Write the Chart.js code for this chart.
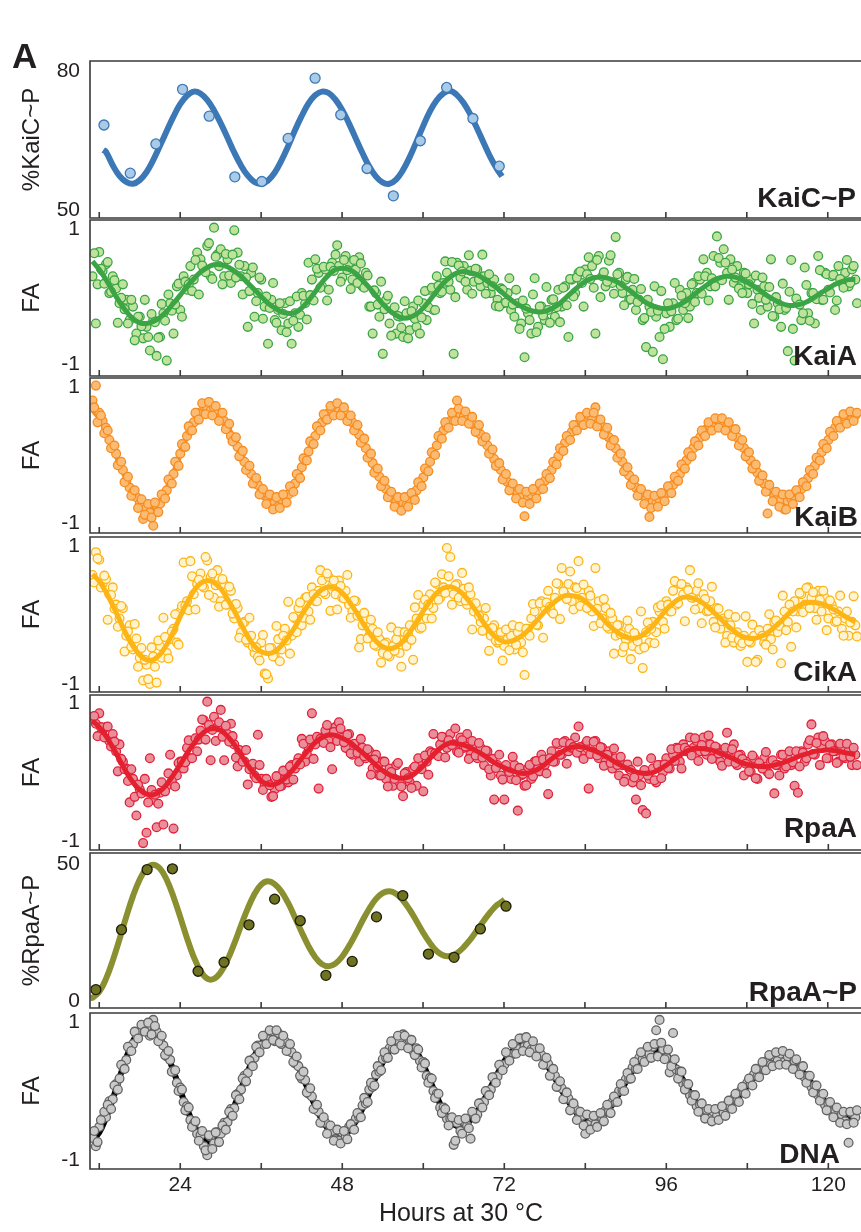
<!DOCTYPE html>
<html>
<head>
<meta charset="utf-8">
<title>Clock protein traces</title>
<script src="https://cdn.jsdelivr.net/npm/chart.js@4.4.1/dist/chart.umd.min.js"></script>
<style>
  html, body { margin: 0; padding: 0; background: #fff; }
  body { width: 861px; height: 1232px; overflow: hidden; position: relative; }
  canvas { position: absolute; left: 0; }
</style>
</head>
<body>
<script>
// time axis, hours at 30 °C
const HOUR_MIN = 10.63;
const HOUR_MAX = 126.81;
const xLabelHours = [24, 48, 72, 96, 120];
const xTickHours = [12, 24, 36, 48, 60, 72, 84, 96, 108, 120];

const faTicks = [-1, 1];
const kaicTicks = [50, 80];
const rpaapTicks = [0, 50];

// FA traces: two interleaved reading sets, each one every half hour (set B a quarter hour later);
// fits: one value per hour from 11 h
const faStart = 11, faStep = 0.5, faCount = 227, faOffsetB = 0.25;
const fitStart = 11, fitCount = 114;

// %KaiC~P
const kaicHours = [12.7, 16.6, 20.4, 24.35, 28.3, 32.1, 36.1, 40.0, 44.0, 47.8, 51.7, 55.6, 59.6, 63.5, 67.4, 71.3];
const kaicValues = [68.5, 58.1, 64.4, 76.2, 70.4, 57.3, 56.3, 65.6, 78.6, 70.7, 59.1, 53.2, 65.1, 76.6, 69.9, 59.6];
const kaicFitHours = [12.6, 13, 14, 15, 16, 17, 18, 19, 20, 21, 22, 23, 24, 25, 26, 27, 28, 29, 30, 31, 32, 33, 34, 35, 36,
  37, 38, 39, 40, 41, 42, 43, 44, 45, 46, 47, 48, 49, 50, 51, 52, 53, 54, 55, 56, 57, 58, 59, 60, 61, 62, 63, 64,
  65, 66, 67, 68, 69, 70, 71, 71.7];
const kaicFit = [63.1, 62.7, 59.8, 57.5, 56.2, 55.8, 56.6, 58.3, 60.9, 64.0, 67.2, 70.3, 73.0, 74.8, 75.7,
  75.3, 73.9, 71.7, 68.9, 65.8, 62.6, 59.8, 57.6, 56.2, 55.8,
  56.5, 58.2, 60.8, 63.9, 67.3, 70.4, 73.1, 74.9, 75.7,
  75.4, 74.0, 71.8, 68.9, 65.7, 62.5, 59.6, 57.4, 56.1, 55.8,
  56.7, 58.7, 61.5, 64.8, 68.2, 71.4, 73.8, 75.3, 75.9,
  75.0, 73.3, 70.8, 67.8, 64.6, 61.5, 58.9, 57.4];

// KaiA FA
const kaiaValues = [
  .30, -.40, .66, .38, .48, .05, .30, .12, -.10, .18, -.05, -.35, -.15, -.55, -.30, -.62, -.45, -.80, -.35, -.88, -.60, -.25, -.95, -.10,
  -.55, .15, -.20, .30, .10, .45, .25, .65, .55, .40, .75, .30, 1.02, .62, .70, .30, .55, .20, .98, .65, .30, .45, -.45, .35,
  -.30, .05, .25, -.15, -.70, -.05, -.35, -.20, -.50, -.10, -.40, -.70, -.25, -.45, .05, -.10, .50, .25, .55, .35, .15, .40, .10, .50,
  .62, .45, .28, .60, .50, .25, .40, .58, .15, .35, -.15, -.55, .05, -.30, -.85, -.05, -.40, -.20, -.55, -.30, -.60, -.25, -.50, -.15,
  -.45, -.55, -.10, -.35, .10, -.20, .30, .05, .20, .35, .10, -.85, .50, .28, .45, .10, .38, .22, .40, .15, .30, .20, .05, .25,
  -.05, .12, -.10, .05, -.20, -.30, -.10, -.40, -.90, -.25, -.55, .27, -.45, -.15, -.35, -.20, -.05, -.30, .10, -.15, .15, -.60, .25, .05,
  .35, .20, .40, .58, .45, -.55, .60, .30, .15, .53, .20, .88, .35, .05, .25, -.05, .10, -.20, -.05, -.35, -.75, -.15, -.82, -.30,
  -.60, -.93, -.25, -.45, -.10, -.35, .10, -.20, .05, -.15, .20, .05, .25, .55, .35, .15, .60, .89, .50, .70, .35, .55, .20, .45,
  .15, .35, .05, .25, -.40, .10, -.20, .15, -.15, .55, -.30, -.10, -.45, -.20, -.81, .54, -.95, -.10, -.35, .43, -.25, .05, -.40, .60,
  -.05, .35, .10, .30, -.20, .45, .20, .35, .15, .40, .25];
const kaiaValuesB = [
  .64, .18, .41, .19, .51, .07, .24, -.39, -.02, -.19, -.40, -.05, -.65, -.30, -.44, -.05, -.60, -.26, -.38, -.61, -.11, -.36, .03, -.21,
  -.12, .19, -.30, .22, .18, .08, .54, .03, .46, .36, .79, .26, .59, .45, .18, .63, .31, .62, .28, .47, .03, .28, .08, .43,
  -.07, .28, -.33, .00, -.17, .20, -.39, -.10, -.26, -.53, -.07, -.36, .00, -.27, .01, -.34, .02, -.06, .41, .13, .44, -.06, .44, .38,
  .76, .22, .54, .39, .11, .54, .20, .49, .13, .31, -.15, .09, -.12, .22, -.19, .01, -.58, -.16, -.29, -.46, -.07, -.62, -.22, -.33,
  -.06, -.31, .08, -.16, .13, -.20, .16, .07, .52, .22, .51, -.01, .46, .37, .22, .61, .04, .41, .25, .62, .04, .33, .15, -.14,
  -.15, .10, -.09, .27, -.12, .10, -.48, -.06, -.18, -.35, .03, -.53, -.15, -.28, .14, -.39, -.04, -.16, -.38, .13, -.13, .26, .00, .28,
  .37, -.15, .33, .26, .13, .54, -.01, .36, .22, .61, .04, .33, .16, -.13, .29, -.04, .26, -.08, .11, -.32, -.05, -.23, .15, -.21,
  .08, -.48, -.10, -.22, .20, -.33, .01, -.10, -.32, .18, -.08, .30, .04, .30, -.06, .27, .15, .57, .24, .50, -.05, .40, .28, .12,
  .05, .34, .18, -.11, .31, -.02, .28, -.05, .14, -.29, -.01, -.19, .19, -.17, .07, -.48, -.03, -.12, -.25, .17, -.36, .05, -.04, .39,
  -.05, .33, .06, .32, -.06, .26, .13, .54, .20, .45, -.10];
const kaiaFit = [
  .52, .40, .25, .08, -.08, -.22, -.33, -.39, -.40, -.37, -.31, -.22,
  -.10, .02, .15, .26, .36, .43, .47, .47, .44, .38, .30, .20,
  .10, .00, -.10, -.17, -.23, -.25, -.24, -.17, -.06, .07, .21, .32,
  .40, .42, .40, .34, .24, .13, .01, -.11, -.21, -.28, -.32, -.31,
  -.26, -.17, -.05, .08, .20, .29, .35, .37, .35, .32, .26, .19,
  .12, .03, -.05, -.12, -.17, -.21, -.23, -.22, -.18, -.12, -.03, .06,
  .15, .22, .27, .29, .28, .25, .20, .13, .06, -.02, -.09, -.14,
  -.17, -.18, -.16, -.12, -.06, .02, .10, .17, .24, .28, .30, .29,
  .26, .21, .15, .08, .01, -.05, -.10, -.13, -.13, -.11, -.07, -.01,
  .06, .12, .18, .22, .25, .25];

// KaiB FA
const kaibValues = [
  .80, 1.02, .62, .50, .40, .22, .10, .02, -.12, -.22, -.38, -.48, -.55, -.62, -.72, -.94, -.78, -.85, -1.04, -.74, -.72, -.62, -.52, -.40,
  -.28, -.12, .02, .12, .28, .36, .48, .62, .60, .72, .68, .65, .70, .60, .55, .50, .42, .28, .22, .12, .02, -.10, -.20, -.28,
  -.38, -.44, -.55, -.60, -.66, -.72, -.70, -.76, -.65, -.62, -.58, -.48, -.42, -.30, -.18, -.08, .05, .18, .28, .40, .48, .55, .62, .66,
  .72, .64, .62, .60, .55, .48, .40, .30, .20, .10, -.02, -.12, -.22, -.32, -.42, -.50, -.58, -.64, -.68, -.78, -.70, -.74, -.66, -.58,
  -.52, -.42, -.33, -.22, -.10, .02, .14, .25, .36, .42, .50, .58, .80, .58, .56, .52, .50, .44, .38, .30, .22, .14, .04, -.06,
  -.14, -.22, -.32, -.40, -.46, -.52, -.56, -.62, -.90, -.60, -.58, -.54, -.52, -.45, -.38, -.30, -.22, -.12, -.02, .08, .18, .26, .34, .40,
  .46, .50, .54, .58, .55, .70, .48, .42, .36, .26, .20, .10, -.02, -.10, -.20, -.30, -.40, -.48, -.55, -.60, -.65, -.91, -.68, -.72,
  -.65, -.60, -.56, -.50, -.44, -.36, -.28, -.18, -.08, .00, .10, .18, .26, .32, .38, .42, .46, .52, .48, .44, .42, .38, .32, .26,
  .18, .10, .02, -.08, -.16, -.26, -.34, -.42, -.86, -.54, -.60, -.64, -.66, -.80, -.68, -.64, -.62, -.56, -.50, -.42, -.34, -.26, -.16, -.06,
  .04, .14, .22, .32, .40, .46, .52, .56, .60, .52, .58];
const kaibValuesB = [
  .70, .48, .58, .32, .36, .10, .14, -.15, -.10, -.40, -.32, -.60, -.52, -.78, -.65, -.88, -.72, -.92, -.70, -.84, -.58, -.64, -.36, -.42,
  -.10, -.16, .16, .12, .42, .36, .62, .52, .76, .60, .78, .58, .72, .50, .62, .38, .46, .20, .26, -.02, .06, -.22, -.16, -.42,
  -.34, -.58, -.50, -.72, -.58, -.80, -.62, -.78, -.58, -.70, -.46, -.54, -.28, -.34, -.05, -.08, .20, .16, .42, .36, .60, .52, .72, .58,
  .76, .58, .70, .50, .58, .36, .44, .18, .24, -.04, .02, -.26, -.20, -.46, -.38, -.62, -.54, -.76, -.62, -.82, -.62, -.76, -.56, -.66,
  -.40, -.46, -.20, -.24, .04, .00, .28, .24, .48, .40, .62, .50, .68, .50, .64, .46, .56, .34, .44, .20, .26, .02, .08, -.16,
  -.12, -.36, -.28, -.52, -.42, -.64, -.50, -.70, -.54, -.72, -.50, -.64, -.42, -.50, -.28, -.34, -.10, -.14, .10, .06, .28, .22, .44, .36,
  .56, .44, .62, .46, .62, .42, .52, .30, .40, .14, .22, -.04, .02, -.24, -.18, -.44, -.36, -.60, -.50, -.72, -.58, -.78, -.60, -.76,
  -.56, -.68, -.46, -.56, -.32, -.38, -.14, -.20, .04, -.02, .20, .14, .36, .28, .48, .36, .54, .40, .54, .36, .48, .28, .38, .14,
  .22, -.02, .04, -.20, -.14, -.38, -.30, -.54, -.44, -.68, -.54, -.76, -.58, -.80, -.58, -.72, -.52, -.62, -.40, -.46, -.22, -.28, -.04, -.08,
  .16, .10, .34, .28, .50, .40, .60, .46, .64, .50, .62];
const kaibFit = [
  .66, .54, .35, .12, -.13, -.36, -.56, -.71, -.79, -.79, -.69, -.50,
  -.26, .01, .28, .50, .64, .69, .66, .56, .42, .23, .02, -.19,
  -.38, -.54, -.65, -.70, -.69, -.58, -.41, -.19, .06, .29, .49, .62,
  .67, .64, .55, .40, .21, -.01, -.23, -.42, -.58, -.68, -.71, -.66,
  -.53, -.33, -.10, .15, .36, .51, .59, .58, .51, .39, .23, .05,
  -.14, -.32, -.46, -.56, -.61, -.59, -.52, -.39, -.22, -.02, .17, .34,
  .46, .53, .54, .48, .36, .19, -.01, -.21, -.40, -.55, -.65, -.68,
  -.65, -.57, -.43, -.27, -.09, .09, .25, .38, .45, .47, .43, .33,
  .19, .02, -.16, -.34, -.49, -.61, -.67, -.68, -.62, -.51, -.35, -.16,
  .04, .23, .39, .51, .57, .58];

// CikA FA
const cikaValues = [
  .58, .91, .80, .45, .52, .30, .40, .15, -.05, .10, -.30, -.15, -.50, -.34, -.62, -.95, -.72, -1.00, -.60, -.98, -.45, -.04, -.55, -.35,
  -.20, -.40, .05, .76, .20, .78, .30, .45, .60, .40, .79, .55, .25, .65, .20, .45, .15, .35, -.05, .10, -.25, -.10, -.40, -.30,
  -.55, -.61, -.40, -.85, -.92, -.48, -.60, -.35, -.50, -.20, .19, -.30, -.05, .10, -.15, .25, .05, .40, .20, .35, .50, .30, .55, .42,
  .30, .50, .25, .35, .15, .05, .20, -.47, -.15, -.05, -.30, -.20, -.45, -.35, -.55, -.40, -.60, -.45, -.35, -.55, -.25, -.45, -.15, -.65,
  -.05, -.20, .15, -.05, .30, .10, .45, .25, .40, .97, .84, .30, .45, .20, .38, .15, .30, .05, .10, -.10, -.05, -.20, -.30, -.15,
  -.40, -.25, -.45, -.35, -.30, -.50, -.25, -.40, -.87, -.20, -.05, .05, -.15, .20, .10, .35, .05, .25, .45, .68, .30, .45, .20, .40,
  .78, .25, .15, .35, .05, .68, .20, -.05, .10, -.20, -.05, -.30, -.15, -.54, -.35, -.20, -.45, -.30, -.50, -.77, -.25, -.40, -.10, -.25,
  .05, -.10, .20, .05, .35, .15, .45, .30, .40, .65, .25, .35, .10, .30, .05, .20, -.10, .10, -.20, -.05, -.30, -.15, -.40, -.25,
  -.45, -.30, -.68, -.40, -.30, -.65, -.25, -.40, -.20, -.35, -.10, -.25, -.70, .05, -.10, -.46, .20, .05, .30, .15, .40, .25, .10, .35,
  .05, .25, -.05, .15, -.10, .05, -.20, -.05, -.30, -.10, -.15];
const cikaValuesB = [
  .47, .82, .40, .57, -.07, .29, .09, -.17, .13, -.53, -.24, -.46, -.13, -.75, -.48, -.65, -.93, -.47, -.75, -.37, -.62, -.32, -.63, -.24,
  .01, -.43, .13, .13, .07, .56, .08, .51, .42, .84, .29, .60, .43, .12, .52, .15, .41, .02, .16, -.33, -.12, -.36, -.04, -.46,
  -.47, -.66, -.29, -.86, -.48, -.60, -.16, -.67, -.30, -.37, -.56, -.03, -.25, .18, -.04, .26, -.07, .30, .20, .65, .33, .60, .06, .50,
  .08, .42, .24, .58, -.04, .21, -.01, -.35, .03, -.34, -.07, -.43, -.25, -.69, -.42, -.58, -.18, -.52, -.24, -.75, -.25, -.28, -.36, .11,
  .29, -.18, .22, .15, -.05, .47, .22, .59, .32, .56, .15, .43, .25, .61, .21, .40, -.21, .17, -.01, -.23, .10, -.52, -.19, -.37,
  -.37, -.66, -.21, -.51, -.15, -.43, -.17, -.54, -.20, -.30, .16, -.14, .17, -.33, .18, .12, .02, .46, -.06, .34, .23, .63, .08, .39,
  .13, .44, .10, .28, -.16, .09, -.12, .23, -.17, .03, -.56, -.15, -.28, -.46, -.08, -.64, -.26, -.38, .05, -.47, -.11, -.20, -.41, .11,
  .14, -.20, .15, .05, .49, .17, .45, -.09, .36, .25, .08, .46, -.12, .23, .06, .41, -.18, .09, -.09, -.40, .01, -.33, -.03, -.36,
  -.41, -.02, -.38, -.14, -.68, -.22, -.30, -.43, .01, -.50, -.08, -.16, .28, -.22, .15, .05, -.18, .32, .04, .39, .10, .33, -.07, .22,
  .35, -.22, .21, .08, -.09, .28, -.30, .05, -.11, .27, -.31];
const cikaFit = [
  .59, .49, .33, .14, -.07, -.28, -.45, -.58, -.65, -.65, -.57, -.43,
  -.24, -.02, .18, .35, .46, .50, .47, .38, .23, .06, -.13, -.31,
  -.45, -.53, -.56, -.53, -.44, -.32, -.17, .00, .15, .28, .37, .41,
  .39, .32, .20, .05, -.11, -.26, -.38, -.46, -.49, -.46, -.38, -.25,
  -.10, .06, .20, .32, .39, .41, .37, .29, .17, .03, -.12, -.25,
  -.34, -.39, -.38, -.34, -.27, -.17, -.06, .05, .15, .23, .28, .28,
  .26, .20, .11, .01, -.10, -.19, -.27, -.32, -.34, -.32, -.25, -.16,
  -.04, .08, .17, .24, .26, .24, .20, .13, .04, -.05, -.15, -.23,
  -.30, -.33, -.34, -.31, -.26, -.18, -.09, .01, .09, .15, .18, .18,
  .16, .12, .07, .01, -.05, -.10];

// RpaA FA
const rpaaValues = [
  .80, .70, .85, .60, .65, .45, .55, .30, .40, .15, .05, -.44, -.10, -.63, -.25, -1.03, -.88, .20, -.40, -.80, -.30, -.76, -.20, .25,
  -.82, -.05, .15, .05, .35, .20, .45, .30, .60, .75, 1.02, .17, .80, .65, .90, .17, .55, .70, .40, .08, .30, .15, -.18, .05,
  -.05, .54, -.10, -.20, -.15, -.36, -.25, -.10, -.20, .00, -.15, .10, .05, .20, .48, .15, .35, .85, .40, -.24, .50, .60, .45, .04,
  .65, .72, .50, .35, .55, .25, .40, .15, .35, .20, .30, .05, .25, -.05, .15, -.10, .05, -.20, .10, -.15, -.35, .00, -.15, .05,
  -.20, .10, -.28, .15, .30, .55, .25, .40, .50, .35, .55, .40, .30, .50, .35, .55, .25, .40, .20, .35, .10, .30, -.05, -.40,
  .10, -.05, -.40, .05, -.10, .10, -.56, -.05, -.20, .05, -.10, .15, .05, .25, .10, -.32, .30, .15, .40, .25, .45, .30, .35, .50,
  .66, .25, .40, -.24, .30, .45, .20, .35, .15, .30, .05, .20, -.05, .10, -.10, .05, -.15, -.40, -.05, -.55, -.60, -.10, .05, -.15,
  .10, .00, .20, .05, .25, .35, .15, .40, .30, .50, .35, .45, .30, .50, .25, .40, .20, .35, .15, .30, .57, .20, .40, .10,
  .25, -.05, .15, .00, .20, -.10, .10, .20, .00, .15, -.31, .10, .25, .05, .20, .10, -.20, -.30, .30, .15, .40, .69, .25, .50,
  .35, .45, .20, .40, .30, .15, .35, .20, .30, .10, .25];
const rpaaValuesB = [
  .81, .52, .65, .50, .66, .37, .44, .01, .19, .04, -.13, .04, -.36, -.18, -.31, -.10, -.44, -.26, -.33, -.46, -.15, -.28, -.02, -.13,
  -.21, .13, .15, .14, .46, .20, .49, .47, .76, .47, .68, .61, .45, .72, .51, .67, .44, .52, .21, .32, .15, .32, .04, .12,
  -.09, .10, -.26, -.10, -.19, -.35, -.06, -.21, .02, -.11, .08, -.11, .13, .11, .41, .26, .47, .19, .51, .48, .42, .68, .36, .58,
  .45, .63, .43, .54, .27, .41, .28, .48, .23, .33, -.04, .18, .08, -.05, .15, -.21, .00, -.10, .13, -.21, -.02, -.09, -.23, .08,
  .20, .04, .24, -.04, .28, .27, .23, .51, .21, .46, .39, .63, .28, .46, .37, .19, .45, .24, .42, .21, .31, .04, .19, .06,
  .25, -.11, .10, .00, .22, -.12, .06, -.03, -.19, .10, -.06, .16, .01, .18, -.02, .20, .15, .42, .25, .43, .12, .41, .36, .28,
  .36, .19, .45, .26, .44, .24, .36, .09, .25, .13, .34, .10, .22, -.14, .11, .03, -.08, .15, -.19, .03, -.05, .20, -.12, .10,
  -.09, .11, .06, .33, .16, .34, .05, .35, .31, .24, .49, .16, .39, .30, .53, .19, .37, .27, .09, .35, .15, .33, .13, .24,
  .19, .12, .01, .24, -.09, .13, .05, .29, -.03, .17, .10, -.05, .25, .08, .30, .14, .30, .08, .28, .20, .46, .26, .42, .10,
  .52, .20, .39, .30, .13, .41, .22, .41, .22, .35, .10];
const rpaaFit = [
  .74, .65, .52, .36, .18, .00, -.15, -.26, -.32, -.33, -.28, -.18,
  -.04, .11, .27, .41, .53, .61, .63, .60, .52, .40, .25, .10,
  -.03, -.13, -.18, -.18, -.13, -.04, .07, .20, .32, .43, .50, .54,
  .53, .49, .44, .36, .28, .19, .10, .02, -.04, -.08, -.09, -.07,
  .00, .09, .20, .30, .38, .42, .41, .39, .35, .30, .24, .17,
  .11, .06, .02, -.01, -.02, .00, .04, .11, .19, .26, .32, .36,
  .37, .35, .32, .28, .23, .17, .11, .06, .02, -.01, -.02, -.01,
  .04, .10, .17, .24, .30, .34, .34, .33, .31, .27, .23, .19,
  .14, .11, .09, .08, .08, .10, .13, .16, .20, .24, .27, .30,
  .31, .32, .31, .29, .27, .25];

// %RpaA~P
const rpaapHours = [11.5, 15.3, 19.1, 22.85, 26.65, 30.5, 34.2, 38.0, 41.8, 45.6, 49.5, 53.1, 57.0, 60.8, 64.6, 68.5, 72.3];
const rpaapValues = [4.3, 26.2, 48.2, 48.5, 11.0, 14.3, 28.0, 37.4, 29.5, 9.5, 14.6, 30.9, 38.7, 17.3, 16.1, 26.5, 34.8];
const rpaapFitHours = [10.7, 11, 12, 13, 14, 15, 16, 17, 18, 19, 20, 21, 22, 23, 24, 25, 26, 27, 28, 29, 30,
  31, 32, 33, 34, 35, 36, 37, 38, 39, 40, 41, 42, 43, 44, 45, 46, 47, 48, 49, 50,
  51, 52, 53, 54, 55, 56, 57, 58, 59, 60, 61, 62, 63, 64, 65, 66, 67, 68, 69, 70, 71, 72, 72.1];
const rpaapFit = [1.2,
  1.3, 3.5, 8.2, 14.9, 22.7, 30.9, 38.5, 44.6, 48.6, 50.0,
  48.6, 44.5, 38.3, 30.9, 23.2, 16.3, 11.1, 8.3, 8.2, 10.6,
  15.1, 21.0, 27.6, 33.9, 39.2, 42.7, 43.9, 42.9, 40.2, 36.0,
  30.8, 25.4, 20.3, 16.2, 13.6, 12.8, 13.8, 16.3, 20.1, 24.6,
  29.4, 33.8, 37.4, 39.6, 40.3, 39.4, 37.0, 33.6, 29.5, 25.2,
  21.4, 18.4, 16.8, 16.6, 17.6, 19.7, 22.6, 26.0, 29.5, 32.7, 35.3, 37.0,
  37.2];

// DNA FA
const dnaValues = [
  -.68, -.80, -.52, -.40, -.38, -.15, -.12, .10, .18, .35, .45, .62, .68, .82, .85, .95, .92, .80, 1.03, .86, .74, .66, .50, .45,
  .28, .12, .05, -.16, -.22, -.42, -.48, -.62, -.64, -.80, -.93, -.66, -.76, -.60, -.62, -.46, -.45, -.26, -.25, -.04, .02, .22, .26, .44,
  .48, .66, .66, .80, .76, .86, .72, .84, .68, .72, .58, .56, .40, .36, .18, .16, -.04, -.08, -.26, -.30, -.46, -.46, -.60, -.58,
  -.70, -.72, -.60, -.66, -.52, -.54, -.40, -.38, -.21, -.18, .02, .06, .24, .28, .46, .48, .62, .62, .74, .72, .82, .68, .74, .58,
  .62, .44, .42, .22, .19, .00, -.04, -.24, -.24, -.40, -.40, -.78, -.46, -.58, -.44, -.50, -.69, -.34, -.34, -.18, -.16, .00, .02, .20,
  .21, .38, .38, .54, .52, .66, .61, .76, .64, .66, .60, .62, .51, .52, .38, .39, .23, .22, .06, .04, -.12, -.11, -.26, -.26,
  -.39, -.36, -.62, -.49, -.38, -.48, -.36, -.40, -.28, -.29, -.16, -.16, .00, .01, .17, .18, .34, .32, .48, .46, .58, .54, .64, .88,
  1.03, .60, .48, .27, .84, .31, .28, .11, .10, -.06, -.06, -.22, -.20, -.32, -.28, -.40, -.30, -.36, -.26, -.32, -.20, -.24, -.11, -.14,
  .00, -.02, .12, .10, .24, .21, .34, .31, .44, .38, .50, .44, .54, .42, .50, .38, .44, .30, .34, .20, .22, .06, .08, -.06,
  -.06, -.20, -.18, -.30, -.28, -.39, -.34, -.44, -.75, -.32, -.38];
const dnaValuesB = [
  -.58, -.74, -.42, -.30, -.20, -.26, .08, .02, .38, .32, .64, .58, .86, .76, .96, .86, .99, .82, .94, .72, .80, .52, .58, .28,
  .30, .00, .02, -.28, -.24, -.52, -.44, -.72, -.58, -.86, -.64, -.84, -.60, -.74, -.50, -.56, -.30, -.36, -.06, -.12, .18, .14, .44, .36,
  .64, .56, .80, .68, .88, .74, .88, .70, .80, .58, .68, .42, .50, .22, .28, -.02, .04, -.26, -.20, -.46, -.38, -.62, -.50, -.72,
  -.56, -.76, -.58, -.70, -.48, -.56, -.32, -.38, -.10, -.16, .12, .08, .36, .30, .56, .48, .72, .60, .80, .66, .80, .62, .74, .52,
  .60, .34, .40, .12, .18, -.10, -.04, -.32, -.26, -.50, -.38, -.72, -.42, -.62, -.40, -.54, -.30, -.40, -.18, -.24, .00, -.06, .20, .12,
  .38, .30, .56, .44, .68, .54, .76, .58, .78, .56, .72, .50, .62, .38, .48, .22, .32, .06, .14, -.12, -.02, -.28, -.18, -.42,
  -.30, -.50, -.34, -.56, -.36, -.52, -.32, -.44, -.20, -.32, -.08, -.16, .10, .00, .26, .18, .42, .32, .56, .42, .64, .48, .68, .50,
  .70, .46, .60, .36, .46, .18, .28, .02, .10, -.14, -.06, -.30, -.18, -.40, -.26, -.44, -.26, -.42, -.22, -.36, -.14, -.26, -.04, -.16,
  .06, -.04, .18, .08, .32, .20, .42, .30, .52, .36, .56, .38, .58, .38, .54, .32, .46, .24, .36, .12, .22, -.02, .08, -.14,
  -.04, -.28, -.16, -.38, -.24, -.46, -.30, -.48, -.30, -.46, -.28];
const dnaFit = [
  -.71, -.60, -.39, -.12, .19, .48, .72, .88, .94, .89, .76, .55,
  .29, .01, -.26, -.49, -.65, -.73, -.71, -.61, -.44, -.22, .03, .28,
  .51, .68, .79, .82, .76, .64, .46, .24, .01, -.22, -.42, -.56,
  -.64, -.65, -.58, -.44, -.25, -.03, .21, .42, .59, .71, .74, .70,
  .57, .38, .15, -.08, -.29, -.44, -.51, -.50, -.42, -.30, -.13, .06,
  .25, .43, .56, .65, .67, .64, .56, .43, .27, .10, -.07, -.22,
  -.35, -.42, -.44, -.41, -.32, -.20, -.04, .13, .30, .44, .54, .59,
  .59, .53, .40, .24, .07, -.10, -.24, -.32, -.34, -.32, -.25, -.16,
  -.05, .07, .20, .31, .40, .46, .48, .46, .40, .30, .18, .04,
  -.09, -.22, -.31, -.37, -.39, -.37];

const FONT = '"Liberation Sans", Arial, Helvetica, sans-serif';
const INK = '#231f20';
Chart.defaults.font.family = FONT;
Chart.defaults.color = INK;

const faHours = Array.from({ length: faCount }, (_, i) => faStart + i * faStep);
const faHoursB = faHours.map(h => h + faOffsetB);
const fitHours = Array.from({ length: fitCount }, (_, i) => fitStart + i);

function pairs(xs, ys) {
  return ys.map((v, i) => ({ x: xs[i], y: v }));
}

// frame, inward hour ticks and panel names
const framePlugin = {
  id: 'frame',
  afterDatasetsDraw(chart, args, opts) {
    const { ctx, chartArea: a } = chart;
    const x = chart.scales.x;
    ctx.save();
    ctx.strokeStyle = '#3a3a3a';
    ctx.lineWidth = 1.6;
    ctx.beginPath();
    ctx.moveTo(a.right + 10, a.top);
    ctx.lineTo(a.left, a.top);
    ctx.lineTo(a.left, a.bottom);
    ctx.lineTo(a.right + 10, a.bottom);
    xTickHours.forEach(h => {
      const px = x.getPixelForValue(h);
      ctx.moveTo(px, a.bottom);
      ctx.lineTo(px, a.bottom - 6);
    });
    ctx.stroke();

    ctx.fillStyle = INK;
    ctx.textBaseline = 'alphabetic';
    ctx.font = `bold 28px ${FONT}`;
    ctx.textAlign = 'right';
    ctx.fillText(opts.name, opts.nameRight, a.bottom - opts.nameGap);
    (opts.notes || []).forEach(n => {
      ctx.font = n.font;
      ctx.textAlign = n.align;
      ctx.fillText(n.text, n.x, n.y);
    });
    ctx.restore();
  }
};

const PAD = 28;
const panels = [
  { name: 'KaiC~P', yTitle: '%KaiC~P', ticks: kaicTicks, min: 48.42, max: 82.31, top: 61, bottom: 218,
    points: pairs(kaicHours, kaicValues), fitX: kaicFitHours, fitY: kaicFit,
    line: '#3c78b6', fill: '#a9cbe8', edge: '#3c78b6', r: 5, lw: 6, nameRight: 856, nameGap: 11,
    notes: [{ text: 'A', x: 12, y: 35, font: `bold 35px ${FONT}`, align: 'left' }] },
  { name: 'KaiA', yTitle: 'FA', ticks: faTicks, min: -1.178, max: 1.133, top: 220, bottom: 376,
    points: pairs(faHours, kaiaValues).concat(pairs(faHoursB, kaiaValuesB)), fitX: fitHours, fitY: kaiaFit,
    line: '#3ba444', fill: '#bfe39d', edge: '#3ba444', r: 4.4, lw: 5, lineOnTop: true, nameRight: 857, nameGap: 11 },
  { name: 'KaiB', yTitle: 'FA', ticks: faTicks, min: -1.147, max: 1.132, top: 378, bottom: 533,
    points: pairs(faHours, kaibValues).concat(pairs(faHoursB, kaibValuesB)), fitX: fitHours, fitY: kaibFit,
    line: '#f68b1f', fill: '#fbbb72', edge: '#f68b1f', r: 4.4, lw: 5, nameRight: 858, nameGap: 7 },
  { name: 'CikA', yTitle: 'FA', ticks: faTicks, min: -1.116, max: 1.13, top: 537, bottom: 692,
    points: pairs(faHours, cikaValues).concat(pairs(faHoursB, cikaValuesB)), fitX: fitHours, fitY: cikaFit,
    line: '#fdb515', fill: '#fff3d0', edge: '#fdb515', r: 4.4, lw: 5, lineOnTop: true, nameRight: 857, nameGap: 11 },
  { name: 'RpaA', yTitle: 'FA', ticks: faTicks, min: -1.13, max: 1.116, top: 695, bottom: 850,
    points: pairs(faHours, rpaaValues).concat(pairs(faHoursB, rpaaValuesB)), fitX: fitHours, fitY: rpaaFit,
    line: '#e4202f', fill: '#e98f9a', edge: '#e2203a', r: 4.4, lw: 5, lineOnTop: true, nameRight: 857, nameGap: 13 },
  { name: 'RpaA~P', yTitle: '%RpaA~P', ticks: rpaapTicks, min: -2.45, max: 54.28, top: 853, bottom: 1008,
    points: pairs(rpaapHours, rpaapValues), fitX: rpaapFitHours, fitY: rpaapFit,
    line: '#8a9030', fill: '#6f7220', edge: '#1e1e0a', r: 5, lw: 6, nameRight: 857, nameGap: 7 },
  { name: 'DNA', yTitle: 'FA', ticks: faTicks, min: -1.13, max: 1.13, top: 1013, bottom: 1169,
    points: pairs(faHours, dnaValues).concat(pairs(faHoursB, dnaValuesB)), fitX: fitHours, fitY: dnaFit,
    line: '#000000', fill: '#c9c9c9', edge: '#626262', r: 4.4, lw: 6, nameRight: 840, nameGap: 6, last: true }
];

panels.forEach(p => {
  const canvasTop = Math.max(0, p.top - PAD);
  const padTop = p.top - canvasTop;
  const height = p.last ? 1232 - canvasTop : (p.bottom + PAD) - canvasTop;
  const cv = document.createElement('canvas');
  cv.width = 880;
  cv.height = height;
  cv.style.top = canvasTop + 'px';
  cv.style.width = '880px';
  cv.style.height = height + 'px';
  document.body.appendChild(cv);

  const notes = (p.notes || []).slice();
  if (p.last) {
    notes.push({ text: 'Hours at 30 °C', x: 461, y: 1221 - canvasTop, font: `25px ${FONT}`, align: 'center' });
  }

  new Chart(cv, {
    type: 'scatter',
    data: {
      datasets: [
        {
          data: p.points,
          backgroundColor: p.fill,
          borderColor: p.edge,
          borderWidth: 1.3,
          pointRadius: p.r,
          pointHoverRadius: p.r,
          order: p.lineOnTop ? 1 : 0
        },
        {
          type: 'line',
          data: pairs(p.fitX, p.fitY),
          borderColor: p.line,
          borderWidth: p.lw,
          pointRadius: 0,
          tension: 0.4,
          fill: false,
          order: p.lineOnTop ? 0 : 1
        }
      ]
    },
    options: {
      responsive: false,
      animation: false,
      events: [],
      layout: { padding: { top: padTop, bottom: p.last ? 0 : PAD, left: 0, right: 0 } },
      plugins: {
        legend: { display: false },
        tooltip: { enabled: false },
        frame: { name: p.name, nameRight: p.nameRight, nameGap: p.nameGap, notes }
      },
      scales: {
        x: {
          type: 'linear',
          min: HOUR_MIN,
          max: HOUR_MAX,
          display: !!p.last,
          grid: { display: false, drawTicks: false },
          border: { display: false },
          ticks: { autoSkip: false, maxRotation: 0, padding: 4, font: { size: 21 }, color: INK },
          afterBuildTicks: s => { s.ticks = xLabelHours.map(v => ({ value: v })); },
          afterFit: s => { if (p.last) s.height = 63; }
        },
        y: {
          min: p.min,
          max: p.max,
          grid: { display: false, drawTicks: false },
          border: { display: false },
          ticks: { padding: 10, font: { size: 21 }, color: INK },
          afterBuildTicks: s => { s.ticks = p.ticks.map(v => ({ value: v })); },
          afterFit: s => { s.width = 90; },
          title: { display: true, text: p.yTitle, font: { size: 24 }, color: INK, padding: { top: 18, bottom: 0 } }
        }
      }
    },
    plugins: [framePlugin]
  });
});
</script>
</body>
</html>
